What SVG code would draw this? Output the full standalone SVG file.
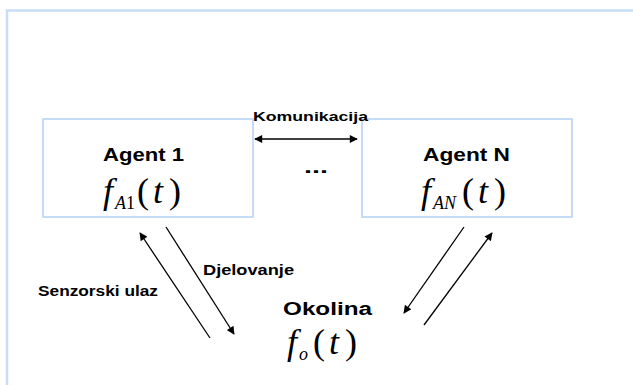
<svg xmlns="http://www.w3.org/2000/svg" width="633" height="385" viewBox="0 0 633 385">
<defs>
<style>
.frame{fill:none;stroke:#c8ddf6;stroke-width:2.5}
.box{fill:#fff;stroke:#c6dcf4;stroke-width:2}
.lbl{font-family:"Liberation Sans",Arial,sans-serif;font-weight:bold;fill:#000}
.math{font-family:"Liberation Serif","Times New Roman",serif;fill:#000;font-size:36px}
.it{font-style:italic}
.sub{font-size:18px}
.conn{stroke:#000;stroke-width:1.3;fill:none}
</style>
<marker id="ah" viewBox="0 0 10 10" refX="9" refY="5" markerWidth="9" markerHeight="8" markerUnits="userSpaceOnUse" orient="auto-start-reverse">
<path d="M0,0 L10,5 L0,10 z" fill="#000"/>
</marker>
</defs>
<rect width="633" height="385" fill="#fff"/>
<path class="frame" d="M7,385 V10.5 H633"/>
<g id="agent1">
<rect class="box" x="43" y="119" width="210" height="98"/>
<text class="lbl" x="103" y="161" font-size="18" textLength="81" lengthAdjust="spacingAndGlyphs">Agent 1</text>
<text class="math"><tspan class="it" x="103" y="203">f</tspan><tspan class="sub it" x="115" y="209">A</tspan><tspan class="sub">1</tspan><tspan x="137" y="203">(</tspan><tspan class="it" x="153">t</tspan><tspan x="169">)</tspan></text>
</g>
<g id="agentN">
<rect class="box" x="362" y="119" width="210" height="98"/>
<text class="lbl" x="423" y="161" font-size="18" textLength="87" lengthAdjust="spacingAndGlyphs">Agent N</text>
<text class="math"><tspan class="it" x="421" y="203">f</tspan><tspan class="sub it" x="433" y="209">AN</tspan><tspan x="462" y="203">(</tspan><tspan class="it" x="478">t</tspan><tspan x="494">)</tspan></text>
</g>
<g id="okolina">
<text class="lbl" x="283" y="315" font-size="18" textLength="89" lengthAdjust="spacingAndGlyphs">Okolina</text>
<text class="math"><tspan class="it" x="287" y="354">f</tspan><tspan class="sub it" x="299" y="360">o</tspan><tspan x="313" y="354">(</tspan><tspan class="it" x="329">t</tspan><tspan x="345">)</tspan></text>
</g>
<g id="dots">
<text class="lbl" x="304" y="173" font-size="18" textLength="24" lengthAdjust="spacingAndGlyphs">...</text>
</g>
<g id="connectors">
<line class="conn" x1="255" y1="139" x2="357" y2="139" marker-start="url(#ah)" marker-end="url(#ah)"/>
<text class="lbl" x="253" y="121" font-size="13.5" textLength="115" lengthAdjust="spacingAndGlyphs">Komunikacija</text>
<line class="conn" x1="210" y1="338" x2="140" y2="233" marker-end="url(#ah)"/>
<text class="lbl" x="38" y="296" font-size="14" textLength="120" lengthAdjust="spacingAndGlyphs">Senzorski ulaz</text>
<line class="conn" x1="166" y1="227" x2="234" y2="334" marker-end="url(#ah)"/>
<text class="lbl" x="203" y="275" font-size="14" textLength="91" lengthAdjust="spacingAndGlyphs">Djelovanje</text>
<line class="conn" x1="464" y1="227" x2="404" y2="313" marker-end="url(#ah)"/>
<line class="conn" x1="424" y1="325" x2="492" y2="233" marker-end="url(#ah)"/>
</g>
</svg>
